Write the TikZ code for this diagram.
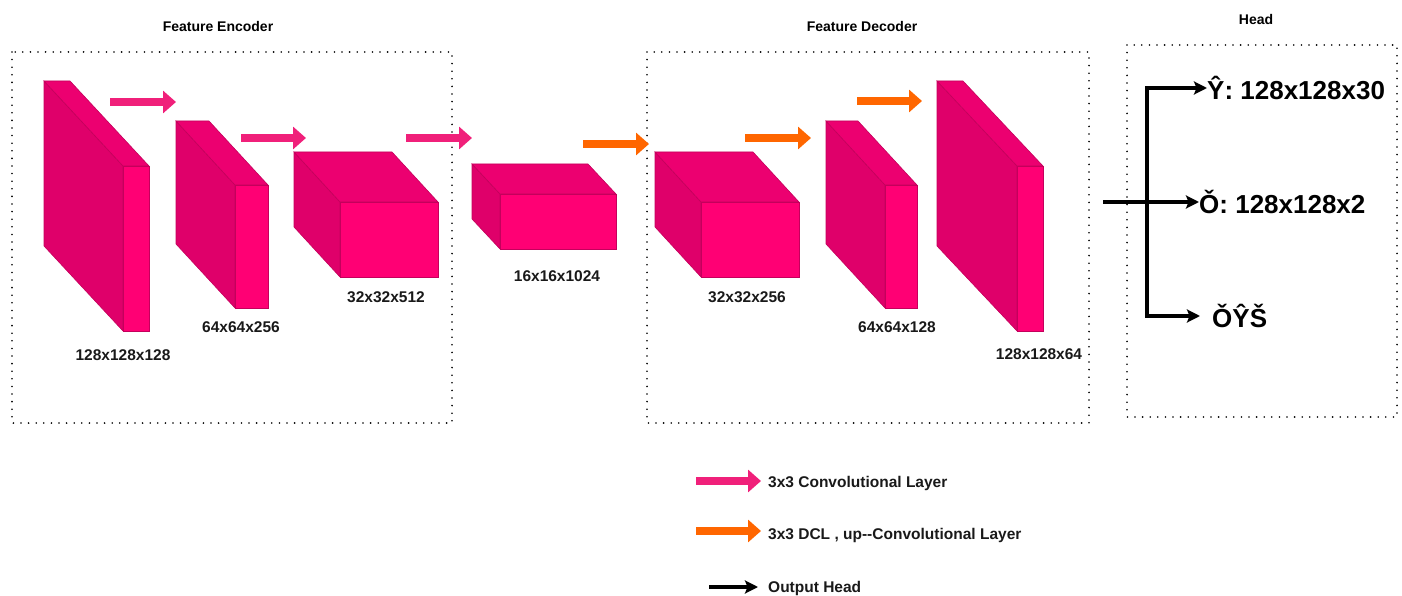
\documentclass[tikz,border=0pt]{standalone}
\usepackage{fontspec}
\setmainfont{Liberation Sans}
\usetikzlibrary{arrows.meta}
\definecolor{frontc}{HTML}{FF0074}
\definecolor{sidec}{HTML}{DF006A}
\definecolor{topc}{HTML}{EC0070}
\definecolor{edgec}{HTML}{C4005C}
\definecolor{pinkarr}{HTML}{F0207A}
\definecolor{orangearr}{HTML}{FF6600}
\newcommand{\cubeblock}[7]{% name, bx, by, dx, dy, w, h
  \fill[sidec, draw=edgec, line width=0.6pt] (#2,#3) -- ++(#4,#5) -- ++(0,#7) -- ++(-#4,-#5) -- cycle;
  \fill[topc, draw=edgec, line width=0.6pt] (#2,#3) -- ++(#6,0) -- ++(#4,#5) -- ++(-#6,0) -- cycle;
  \path (#2,#3) ++(#4,#5) coordinate (#1);
  \fill[frontc, draw=edgec, line width=0.6pt] (#1) rectangle ++(#6,#7);
}
\begin{document}
\begin{tikzpicture}[x=1pt,y=-1pt,
  dotbox/.style={draw=black, line width=1.8pt, line cap=round, dash pattern=on 0pt off 7.6pt},
  lbl/.style={font=\bfseries\fontsize{15.5}{18}\selectfont, text=black!90, inner sep=0pt},
  ttl/.style={font=\bfseries\fontsize{14}{17}\selectfont, inner sep=0pt},
  headtxt/.style={font=\bfseries\fontsize{26}{30}\selectfont, inner sep=0pt, anchor=west},
  pinkarrow/.style={draw=pinkarr, line width=8pt, -{Triangle[length=13pt,width=22pt]}},
  orangearrow/.style={draw=orangearr, line width=8pt, -{Triangle[length=13pt,width=22pt]}},
  blackarrow/.style={draw=black, line width=3.4pt, -{Stealth[length=13pt,width=13pt,inset=2.5pt]}},
  blackline/.style={draw=black, line width=3.4pt}
]
\useasboundingbox (0,0) rectangle (1402,596);

% dotted boxes
\draw[dotbox] (12,52) rectangle (452,423);
\draw[dotbox] (647,52) rectangle (1089,423);
\draw[dotbox] (1127,45) rectangle (1397,417);

% titles
\node[ttl] (tenc) at (218,26) {Feature Encoder};
\node[ttl] (tdec) at (862,26) {Feature Decoder};
\node[ttl] (thead) at (1256,19) {Head};

% blocks
\cubeblock{b1}{44}{81}{79}{85}{26}{165}
\cubeblock{b2}{176}{121}{59}{64}{33}{123}
\cubeblock{b3}{294}{152}{46}{50}{98}{75}
\cubeblock{b4}{472}{164}{28}{30}{116}{55}
\cubeblock{b5}{655}{152}{46}{50}{98}{75}
\cubeblock{b6}{826}{121}{59}{64}{32}{123}
\cubeblock{b7}{937}{81}{80}{85}{26}{165}

% block labels
\node[lbl] (l1) at (123,355) {128x128x128};
\node[lbl] (l2) at (241,327) {64x64x256};
\node[lbl] (l3) at (386,297) {32x32x512};
\node[lbl] (l4) at (557,276) {16x16x1024};
\node[lbl] (l5) at (747,297) {32x32x256};
\node[lbl] (l6) at (897,327) {64x64x128};
\node[lbl] (l7) at (1039,354) {128x128x64};

% encoder / decoder arrows
\coordinate (a1s) at (110,102); \coordinate (a1e) at (176,102);
\coordinate (a2s) at (241,138); \coordinate (a2e) at (306,138);
\coordinate (a3s) at (406,138); \coordinate (a3e) at (472,138);
\coordinate (a4s) at (583,144); \coordinate (a4e) at (649,144);
\coordinate (a5s) at (745,138); \coordinate (a5e) at (811,138);
\coordinate (a6s) at (857,101); \coordinate (a6e) at (922,101);
\draw[pinkarrow] (a1s) -- (a1e);
\draw[pinkarrow] (a2s) -- (a2e);
\draw[pinkarrow] (a3s) -- (a3e);
\draw[orangearrow] (a4s) -- (a4e);
\draw[orangearrow] (a5s) -- (a5e);
\draw[orangearrow] (a6s) -- (a6e);

% head
\coordinate (hin) at (1103,202);
\coordinate (hsplit) at (1147,202);
\coordinate (htop) at (1147,88);
\coordinate (hbot) at (1147,316);
\node[headtxt] (oy) at (1207,88) {Ŷ: 128x128x30};
\node[headtxt] (oo) at (1199,202) {Ǒ: 128x128x2};
\node[headtxt] (oys) at (1212,316) {ǑŶŠ};
\draw[blackarrow] (hin) -- (oo.west);
\draw[blackline, line cap=rect] (htop) -- (hbot);
\draw[blackarrow] (htop) -- (oy.west);
\draw[blackarrow] (hbot) -- ([xshift=-12pt]oys.west);

% legend
\coordinate (lg1s) at (696,481); \coordinate (lg1e) at (761,481);
\coordinate (lg2s) at (696,531); \coordinate (lg2e) at (761,531);
\coordinate (lg3s) at (709,587); \coordinate (lg3e) at (758,587);
\draw[pinkarrow] (lg1s) -- (lg1e);
\draw[orangearrow] (lg2s) -- (lg2e);
\draw[blackarrow] (lg3s) -- (lg3e);
\node[lbl, anchor=west] (lt1) at (768,483) {3x3 Convolutional Layer};
\node[lbl, anchor=west] (lt2) at (768,535) {3x3 DCL , up{-}{-}Convolutional Layer};
\node[lbl, anchor=west] (lt3) at (768,588) {Output Head};
\end{tikzpicture}
\end{document}
